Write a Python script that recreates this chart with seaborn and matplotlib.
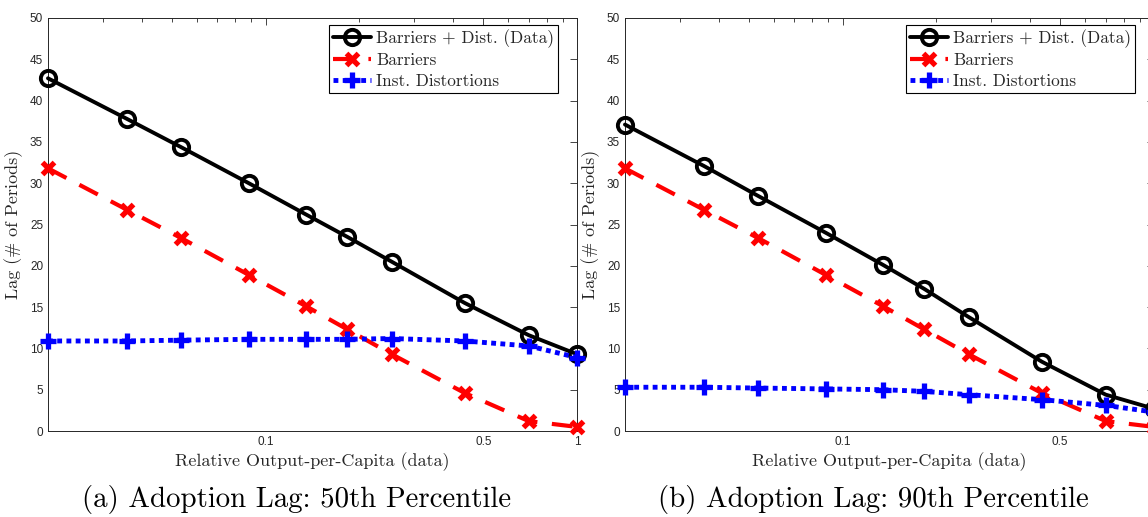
import pandas as pd
import matplotlib.pyplot as plt
import matplotlib.ticker as mticker
import seaborn as sns

# Relative output-per-capita (log x axis)
rel_output = [0.02, 0.0358, 0.0533, 0.0883, 0.135, 0.183, 0.254, 0.436, 0.70, 1.0]

# (a) 50th percentile adoption lag
lag50_data = [42.7, 37.8, 34.4, 30.0, 26.2, 23.5, 20.5, 15.5, 11.6, 9.3]
lag50_barriers = [31.8, 26.8, 23.4, 18.9, 15.1, 12.3, 9.3, 4.6, 1.2, 0.5]
lag50_distort = [10.9, 10.9, 11.0, 11.1, 11.1, 11.1, 11.2, 10.9, 10.3, 8.9]

# (b) 90th percentile adoption lag
lag90_data = [37.1, 32.1, 28.5, 24.0, 20.1, 17.2, 13.8, 8.4, 4.4, 2.7]
lag90_barriers = [31.8, 26.8, 23.4, 18.9, 15.1, 12.3, 9.3, 4.6, 1.2, 0.5]
lag90_distort = [5.3, 5.3, 5.2, 5.1, 5.0, 4.8, 4.4, 3.8, 3.1, 2.3]

series_labels = ["Barriers + Dist. (Data)", "Barriers", "Inst. Distortions"]
captions = ["(a) Adoption Lag: 50th Percentile", "(b) Adoption Lag: 90th Percentile"]

sns.set_style("white")
serif = "cmr10"
tick_font = "Liberation Sans"
ink = "#262626"

fig = plt.figure(figsize=(11.48, 5.17), dpi=100)
ax_a = fig.add_axes([0.0418, 0.1663, 0.4608, 0.7989])
ax_b = fig.add_axes([0.5444, 0.1663, 0.4608, 0.7989])

panels = [
    (ax_a, lag50_data, lag50_barriers, lag50_distort, ["0.1", "0.5", "1"]),
    # the right panel runs past the figure edge, so its "1" label is not shown
    (ax_b, lag90_data, lag90_barriers, lag90_distort, ["0.1", "0.5", ""]),
]

for ax, data, barr, dist, xlabels in panels:
    df = pd.DataFrame({"x": rel_output, "data": data, "barr": barr, "dist": dist})

    sns.lineplot(data=df, x="x", y="data", ax=ax, color="black", lw=2.8,
                 marker="o", markersize=11, markerfacecolor="none",
                 markeredgecolor="black", markeredgewidth=2.8,
                 label=series_labels[0], clip_on=False, zorder=3)
    sns.lineplot(data=df, x="x", y="barr", ax=ax, color="#ff0000", lw=3,
                 linestyle=(0, (5, 3.5)), marker="x", markersize=9,
                 markeredgecolor="#ff0000", markeredgewidth=3.8,
                 label=series_labels[1], clip_on=False, zorder=4)
    sns.lineplot(data=df, x="x", y="dist", ax=ax, color="#0000ff", lw=3.5,
                 linestyle=(0, (1, 0.9)), marker="+", markersize=11,
                 markeredgecolor="#0000ff", markeredgewidth=3.8,
                 label=series_labels[2], clip_on=False, zorder=5)

    ax.set_xscale("log")
    ax.set_xlim(0.02, 1)
    ax.set_ylim(0, 50)
    ax.set_xticks([0.1, 0.5, 1])
    ax.set_xticklabels(xlabels)
    ax.xaxis.set_minor_locator(mticker.LogLocator(base=10, subs=range(2, 10)))
    ax.xaxis.set_minor_formatter(mticker.NullFormatter())
    ax.set_yticks(range(0, 51, 5))

    ax.tick_params(axis="both", which="both", direction="in", top=True,
                   right=True, colors=ink, labelsize=8.5, width=0.6)
    ax.tick_params(which="major", length=5)
    ax.tick_params(which="minor", length=3)
    for lab in ax.get_xticklabels() + ax.get_yticklabels():
        lab.set_fontfamily(tick_font)
    for sp in ax.spines.values():
        sp.set_color(ink)
        sp.set_linewidth(0.7)

    ax.set_xlabel("Relative Output-per-Capita (data)", fontfamily=serif,
                  fontsize=13, color=ink, labelpad=3)
    ax.set_ylabel("Lag (# of Periods)", fontfamily=serif, fontsize=13,
                  color=ink, labelpad=5)

    leg = ax.legend(loc="upper right", bbox_to_anchor=(0.965, 0.983),
                    prop={"family": serif, "size": 12.4}, frameon=True,
                    fancybox=False, edgecolor="black", framealpha=1,
                    handlelength=2.2, handletextpad=0.3, borderpad=0.25,
                    labelspacing=0.3, borderaxespad=0)
    leg.get_frame().set_linewidth(0.8)

fig.text(297 / 1148, 1 - 500 / 517, captions[0], ha="center", va="center",
         fontfamily=serif, fontsize=20.8, color="black")
fig.text(873 / 1148, 1 - 500 / 517, captions[1], ha="center", va="center",
         fontfamily=serif, fontsize=20.8, color="black")

fig.savefig("out.png", dpi=100)
